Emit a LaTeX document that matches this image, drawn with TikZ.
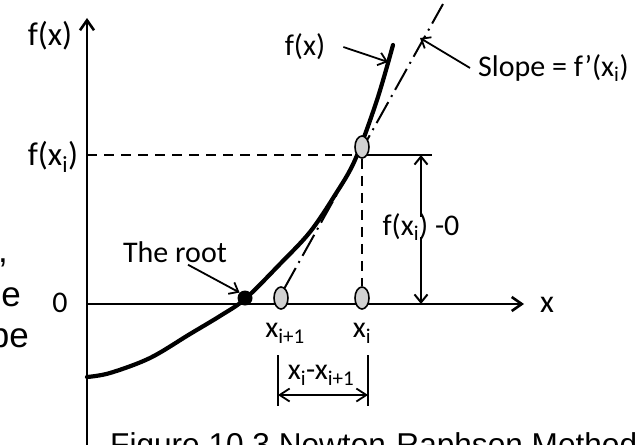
\documentclass[tikz,border=0pt]{standalone}
\usepackage{fontspec}
\setmainfont{Carlito}
\newfontfamily\arialfont{Liberation Sans}
\usetikzlibrary{arrows.meta,shapes.geometric}
\begin{document}
\begin{tikzpicture}[x=1pt,y=-1pt,
  axisline/.style={line width=2.6pt},
  barb/.style={-{Straight Barb[length=10pt,width=14pt]}},
  thinarr/.style={line width=1.8pt,-{Straight Barb[length=8pt,width=13pt]}},
  dimarr/.style={line width=1.8pt,{Straight Barb[length=10pt,width=13pt]}-{Straight Barb[length=10pt,width=13pt]}},
  dashline/.style={line width=2.6pt,dash pattern=on 10pt off 7pt},
  tangentline/.style={line width=2pt,dash pattern=on 24pt off 6pt on 2pt off 6pt},
  curveline/.style={line width=4.2pt,line cap=round},
  ptmark/.style={ellipse,draw,line width=1.6pt,fill=black!18,minimum width=14pt,minimum height=22pt,inner sep=0},
  rootdot/.style={circle,fill=black,minimum size=15pt,inner sep=0},
  lbl/.style={font=\fontsize{30}{34}\selectfont,inner sep=0},
  biglbl/.style={font=\fontsize{33}{38}\selectfont,inner sep=0},
  stray/.style={font=\arialfont\fontsize{35}{40}\selectfont,inner sep=0,anchor=base east},
]
\useasboundingbox (0,0) rectangle (644,444);

% coordinates
\coordinate (O) at (87,304);
\coordinate (ytop) at (87,18);
\coordinate (ybot) at (87,446);
\coordinate (xend) at (524,304);
\coordinate (fxiL) at (87,155);
\coordinate (fxiM) at (362,155);
\coordinate (fxiR) at (432,155);
\coordinate (tanA) at (284,289);
\coordinate (tanB) at (443,4);
\coordinate (fxtip) at (388,62);
\coordinate (slopetip) at (420,38);
\coordinate (barLtop) at (278,355);
\coordinate (barLbot) at (278,406);
\coordinate (barRtop) at (368,355);
\coordinate (barRbot) at (368,406);
\coordinate (dimL) at (278,395);
\coordinate (dimR) at (368,395);

% axes
\draw[axisline,barb] (ybot) -- (ytop);
\draw[axisline,barb] (O) -- (xend);

% dashed guide lines
\draw[dashline] (fxiL) -- (fxiM);
\draw[line width=2pt] (fxiM) -- (fxiR);

% tangent
\draw[tangentline] (tanA) -- (tanB);

% curve
\draw[curveline] plot[smooth,tension=0.55] coordinates {(87,377) (110,373) (150,358) (190,334) (220,316) (245,299) (280,264) (310,232) (335,195) (355,160) (377,100) (393,45)};

% points
\node[ptmark] (xitop) at (362,147) {};
\node[ptmark] (xiax) at (362,298) {};
\node[ptmark] (xi1ax) at (281,298) {};
\node[rootdot] (root) at (245,298) {};

\draw[dashline] (xitop.south) -- (xiax.north);

% labels
\node[biglbl] (fxaxis) at (50,36) {f(x)};
\node[biglbl] (fxi) at (53,157) {f(x\textsubscript{i})};
\node[lbl] (zero) at (60,303) {0};
\node[font=\fontsize{32}{36}\selectfont,inner sep=0] (xlab) at (547,305) {x};
\node[lbl] (fxcurve) at (305,47) {f(x)};
\node[lbl,anchor=west] (slope) at (478,68) {Slope = f’(x\textsubscript{i})};
\node[lbl] (rootlbl) at (175,252) {The root};
\node[lbl] (dfx) at (421,227) {f(x\textsubscript{i}) -0};
\node[lbl] (xi1lbl) at (285,333) {x\textsubscript{i+1}};
\node[lbl] (xilbl) at (362,333) {x\textsubscript{i}};
\node[lbl] (dimlbl) at (321,375) {x\textsubscript{i}-x\textsubscript{i+1}};

% label arrows
\draw[thinarr] ([xshift=18pt]fxcurve.east) -- (fxtip);
\draw[thinarr] ([xshift=-8pt]slope.west) -- (slopetip);
\draw[thinarr] ([xshift=13pt,yshift=-2pt]rootlbl.south) -- (root.north west);
\draw[thinarr,line width=2pt] ([yshift=-4pt]dfx.north) -- (dfx.north |- fxiR);
\draw[thinarr,line width=2pt] ([yshift=4pt]dfx.south) -- (dfx.south |- O);

% dimension
\draw[line width=1.8pt] (barLtop) -- (barLbot);
\draw[line width=1.8pt] (barRtop) -- (barRbot);
\draw[dimarr] (dimL) -- (dimR);

% stray text fragments and caption
\node[stray] (s1) at (8,262) {,};
\node[stray] (s2) at (21,306) {e};
\node[stray] (s3) at (29,347) {be};
\node[font=\arialfont\fontsize{31.6}{36}\selectfont,inner sep=0,anchor=base west] (cap) at (110,455) {Figure 10.3 Newton-Raphson Method};
\end{tikzpicture}
\end{document}
